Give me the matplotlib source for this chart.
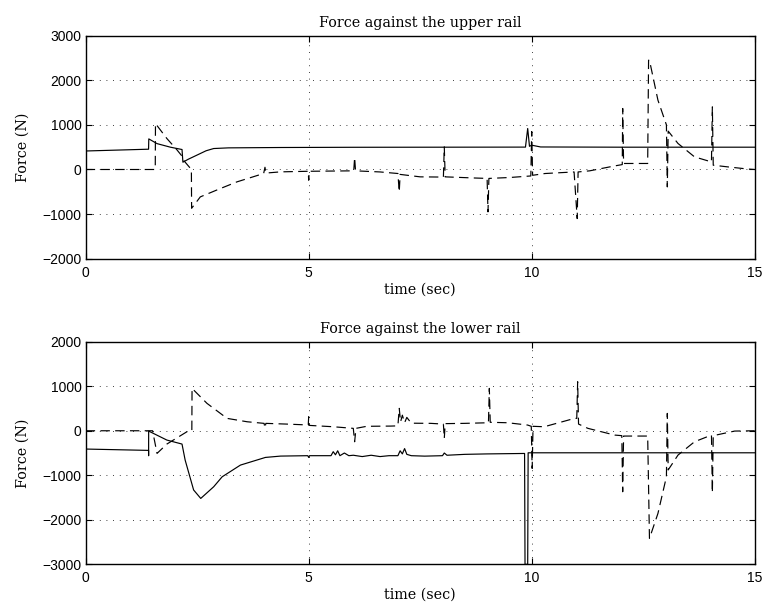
import numpy as np
import matplotlib
matplotlib.use("Agg")
import matplotlib.pyplot as plt

# upper rail, solid trace
t_up_solid = [0, 0.005, 1.41, 1.415, 1.6, 1.9, 2.16, 2.18, 2.3, 2.49, 2.7, 2.87, 3.2, 4.37,
              6.0, 8.0, 9.86, 9.91, 9.95, 10.0, 10.2, 12.0, 15.0]
f_up_solid = [-2000, 415, 455, 686, 580, 500, 448, 164, 230, 320, 420, 470, 485, 493,
              498, 500, 502, 919, 520, 545, 505, 500, 500]

# upper rail, dashed trace
t_up_dash = [0, 1.56, 1.565, 1.82, 2.04, 2.16, 2.2, 2.37, 2.375, 2.57, 3.02, 3.39, 3.99,
             4.02, 4.04, 4.37, 4.99, 5.0, 5.01, 5.5, 6.01, 6.03, 6.05, 6.6, 7.0, 7.03, 7.05,
             7.5, 8.02, 8.04, 8.06, 8.7, 9.0, 9.02, 9.04, 9.5, 9.98, 10.0, 10.02, 10.3,
             10.95, 11.02, 11.04, 11.3, 11.86, 12.03, 12.04, 12.06, 12.6, 12.62, 12.64,
             12.83, 13.02, 13.04, 13.06, 13.28, 13.65, 14.03, 14.05, 14.07, 14.4, 14.85, 15.0]
f_up_dash = [0, 0, 1030, 695, 448, 300, 200, 0, -870, -614, -427, -278, -90,
             50, -80, -53, -40, -240, -40, -35, -30, 269, -30, -55, -90, -502, -110,
             -165, -170, 507, -165, -190, -200, -950, -200, -180, -145, 850, -130, -90,
             -55, -1100, -55, -30, 80, 110, 1368, 135, 135, 2450, 2450,
             1554, 1000, -390, 860, 583, 283, 170, 1404, 96, 58, 10, 0]

# lower rail, solid trace
t_lo_solid = [0, 0.005, 1.41, 1.411, 1.412, 1.82, 2.16, 2.23, 2.42, 2.58, 2.87, 3.06, 3.47,
              4.03, 4.37, 4.98, 5.0, 5.02, 5.5, 5.55, 5.6, 5.65, 5.7, 5.8, 5.9, 6.0, 6.2, 6.4,
              6.6, 6.8, 7.0, 7.05, 7.1, 7.15, 7.2, 7.3, 7.6, 8.0, 8.04, 8.1, 8.5, 9.0, 9.84,
              9.85, 9.91, 9.92, 10.0, 12.0, 15.0]
f_lo_solid = [-3000, -411, -441, -561, -7, -209, -299, -658, -1330, -1520, -1258, -1034, -771,
              -599, -569, -560, -600, -560, -560, -470, -540, -450, -560, -500, -560, -550, -580, -550,
              -580, -560, -560, -450, -520, -400, -530, -560, -570, -560, -500, -550, -530, -520, -510,
              -3000, -3000, -495, -495, -495, -495]

# lower rail, dashed trace
t_lo_dash = [0, 1.5, 1.6, 1.82, 2.27, 2.38, 2.385, 2.72, 3.17, 3.62, 4.0, 4.02, 4.04, 4.5,
             4.99, 5.0, 5.01, 5.02, 5.55, 6.0, 6.03, 6.06, 6.3, 6.84, 7.0, 7.03, 7.06, 7.1,
             7.15, 7.2, 7.3, 7.74, 8.02, 8.04, 8.06, 8.49, 9.03, 9.05, 9.07, 9.46, 9.91, 9.99,
             10.01, 10.03, 10.28, 10.96, 11.01, 11.03, 11.05, 11.26, 11.86, 12.02, 12.04, 12.06,
             12.58, 12.6, 12.64, 12.83, 13.02, 13.04, 13.06, 13.28, 13.65, 14.03, 14.05, 14.07,
             14.55, 15.0]
f_lo_dash = [0, 0, -509, -299, -22, 0, 952, 615, 278, 202, 166, 60, 166, 150,
             130, 315, 128, 120, 90, 54, -247, 54, 100, 105, 110, 503, 200, 350,
             180, 300, 170, 166, 150, -171, 160, 166, 180, 952, 190, 180, 128, 100,
             -845, 100, 90, 278, 278, 1101, 150, 54, -97, -110, -1370, -119,
             -119, -119, -2418, -1857, -1034, 390, -880, -546, -247, -97, -1393, -110,
             -7, 0]

titles = ["Force against the upper rail", "Force against the lower rail"]
ylims = [(-2000, 3000), (-3000, 2000)]
yticks = [[-2000, -1000, 0, 1000, 2000, 3000], [-3000, -2000, -1000, 0, 1000, 2000]]
xticks = [0, 5, 10, 15]

serif = "DejaVu Serif"
sans = "Liberation Sans"

fig = plt.figure(figsize=(7.67, 6.10), dpi=100)
ax1 = fig.add_axes([0.1117, 0.5759, 0.8723, 0.3656])
ax2 = fig.add_axes([0.1117, 0.0749, 0.8723, 0.3649])

series = [(t_up_solid, f_up_solid, t_up_dash, f_up_dash),
          (t_lo_solid, f_lo_solid, t_lo_dash, f_lo_dash)]

for i, ax in enumerate([ax1, ax2]):
    ts, fs, td, fd = series[i]
    ax.plot(ts, fs, color="black", lw=0.85)
    ax.plot(td, fd, color="black", lw=0.85, dashes=(8, 4.5))
    ax.set_xlim(0, 15)
    ax.set_ylim(*ylims[i])
    ax.set_xticks(xticks)
    ax.set_yticks(yticks[i])
    ax.set_xticklabels([str(x) for x in xticks], fontfamily=sans, fontsize=10)
    ax.set_yticklabels([str(y).replace("-", "\u2212") for y in yticks[i]], fontfamily=sans, fontsize=10)
    ax.tick_params(direction="in", top=True, right=True, length=4.5, width=0.8)
    ax.tick_params(axis="x", pad=5)
    ax.tick_params(axis="y", pad=3)
    ax.grid(True, color="black", lw=0.6, linestyle=(0, (1, 7)))
    for sp in ax.spines.values():
        sp.set_linewidth(1.0)
    ax.set_title(titles[i], fontfamily=serif, fontsize=10.3, pad=6)
    ax.set_xlabel("time (sec)", fontfamily=serif, fontsize=10.3, labelpad=2)
    ax.set_ylabel("Force (N)", fontfamily=serif, fontsize=10.3, labelpad=9)

fig.savefig("out.png", dpi=100)
